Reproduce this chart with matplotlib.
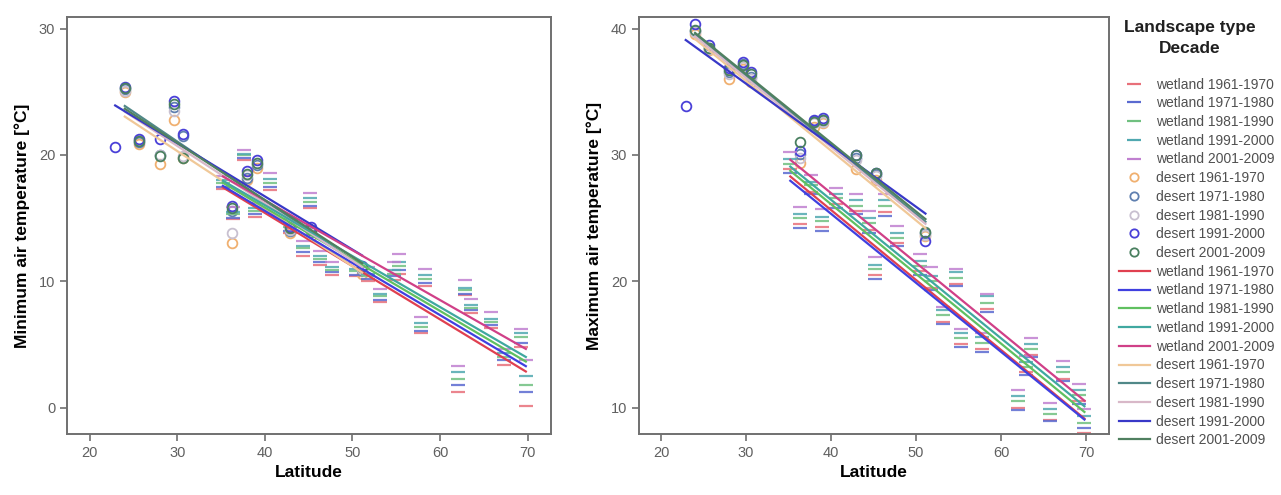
import matplotlib.pyplot as plt
from matplotlib.lines import Line2D
import numpy as np

plt.rcParams['font.family'] = ['Liberation Sans', 'DejaVu Sans']

decades = ['1961-1970', '1971-1980', '1981-1990', '1991-2000', '2001-2009']

# desert stations (latitude), one row per decade
desert_lat = [22.9, 24.0, 25.6, 28.0, 29.6, 30.6, 36.3, 38.0, 39.1, 42.9, 45.3, 51.1]
nan = np.nan
desert_min = [
    [nan, 25.0, 20.9, 19.3, 22.8, 19.8, 13.0, 18.0, 19.0, 13.8, 13.6, 10.6],
    [nan, 25.2, 21.0, 20.0, 23.8, 21.5, 15.6, 18.2, 19.2, 14.0, 13.9, 10.9],
    [nan, 25.1, 21.2, 20.0, 23.5, 19.9, 13.8, 18.4, 19.4, 14.1, 14.0, 11.0],
    [20.6, 25.4, 21.3, 21.3, 24.3, 21.7, 16.0, 18.7, 19.6, 14.3, 14.3, 11.2],
    [nan, 25.3, 21.1, 19.9, 24.0, 19.8, 15.8, 18.5, 19.4, 14.2, 14.1, 11.1],
]
desert_max = [
    [nan, 39.6, 38.3, 36.0, 36.8, 35.8, 29.4, 32.2, 32.5, 28.9, 28.0, 23.6],
    [nan, 39.8, 38.5, 36.6, 37.2, 36.2, 30.1, 32.7, 32.8, 29.8, 28.4, 23.8],
    [nan, 39.7, 38.4, 36.4, 37.0, 36.0, 29.8, 32.5, 32.6, 29.6, 28.3, 23.7],
    [33.9, 40.4, 38.7, 36.9, 37.4, 36.6, 30.3, 32.8, 32.9, 30.0, 28.6, 23.2],
    [nan, 39.9, 38.5, 36.7, 37.1, 36.4, 31.0, 32.6, 32.8, 30.0, 28.6, 23.9],
]

# wetland stations (latitude), one row per decade
wetland_lat = [35.2, 36.4, 37.6, 38.9, 40.6, 42.9, 44.4, 45.2, 46.3, 47.7, 50.4, 51.8,
               53.2, 54.7, 55.3, 57.8, 58.3, 62.0, 62.9, 63.5, 65.8, 67.3, 69.2, 69.8]
wetland_min = [
    [17.3, 14.9, 19.6, 15.1, 17.2, 13.8, 12.0, 15.8, 11.3, 10.5, 10.4, 10.0,
     8.4, 10.1, 10.6, 5.9, 9.6, 1.2, 8.9, 7.5, 6.3, 3.4, 4.8, 0.1],
    [17.5, 15.0, 19.8, 15.3, 17.5, 14.0, 12.3, 16.0, 11.5, 10.7, 10.5, 10.2,
     8.5, 10.4, 10.9, 6.1, 9.9, 1.8, 9.0, 7.7, 6.5, 3.8, 5.1, 1.2],
    [17.8, 15.3, 20.0, 15.6, 17.8, 14.3, 12.6, 16.3, 11.8, 10.9, 10.8, 10.4,
     8.8, 10.6, 11.2, 6.4, 10.2, 2.3, 9.3, 7.9, 6.8, 4.0, 5.6, 1.8],
    [18.0, 15.5, 20.1, 15.8, 18.1, 14.5, 12.8, 16.6, 12.0, 11.1, 11.0, 10.6,
     9.0, 10.9, 11.5, 6.7, 10.5, 2.8, 9.5, 8.1, 7.0, 4.3, 5.9, 2.5],
    [18.3, 15.9, 20.4, 16.2, 18.6, 14.9, 13.2, 17.0, 12.4, 11.5, 11.5, 11.1,
     9.4, 11.5, 12.2, 7.2, 11.0, 3.3, 10.1, 8.6, 7.6, 4.6, 6.2, 3.8],
]
wetland_max = [
    [28.9, 24.5, 27.1, 24.3, 26.1, 25.6, 24.1, 20.5, 25.5, 23.0, 20.8, 19.5,
     16.8, 19.8, 15.0, 14.6, 17.8, 10.0, 12.8, 14.2, 9.0, 12.3, 10.5, 8.0],
    [28.6, 24.2, 26.9, 24.0, 25.8, 25.3, 23.8, 20.2, 25.2, 22.8, 20.5, 19.3,
     16.6, 19.6, 14.8, 14.4, 17.6, 9.8, 12.6, 14.0, 8.9, 12.1, 10.3, 8.4],
    [29.3, 25.0, 27.6, 24.8, 26.6, 26.0, 24.6, 21.0, 26.0, 23.4, 21.2, 20.0,
     17.3, 20.3, 15.5, 15.1, 18.3, 10.5, 13.2, 14.6, 9.5, 12.8, 11.0, 8.8],
    [29.7, 25.3, 27.9, 25.1, 26.9, 26.4, 25.0, 21.3, 26.4, 23.8, 21.6, 20.4,
     17.7, 20.7, 15.9, 15.6, 18.8, 10.9, 13.6, 15.0, 9.9, 13.2, 11.4, 9.3],
    [30.2, 25.9, 28.4, 25.7, 27.4, 26.9, 25.6, 21.9, 26.9, 24.4, 22.2, 21.1,
     18.0, 21.0, 16.2, 15.9, 19.0, 11.4, 14.1, 15.5, 10.4, 13.7, 11.9, 9.9],
]

wet_mk = ['#e8707a', '#5a6ad0', '#70c080', '#50a8b0', '#c080d0']
des_mk = ['#f0b070', '#6080b0', '#c8c0d0', '#4a40d8', '#4a8060']
wet_ln = ['#e04050', '#4040e0', '#60c060', '#40a8a0', '#d04088']
des_ln = ['#f0c898', '#508888', '#d8b8c8', '#3838c8', '#508060']


def fit_line(ax, lat, vals, color):
    lat = np.asarray(lat)
    vals = np.asarray(vals, dtype=float)
    ok = ~np.isnan(vals)
    k, b = np.polyfit(lat[ok], vals[ok], 1)
    xs = np.array([lat[ok].min(), lat[ok].max()])
    ax.plot(xs, k * xs + b, color=color, lw=1.6, zorder=3)


def panel(ax, wet, des, ylabel, ylim, yticks):
    for i in range(5):
        ax.plot(wetland_lat, wet[i], ls='none', marker='_', ms=10, mew=1.6,
                color=wet_mk[i], alpha=0.85, zorder=2)
        ax.plot(desert_lat, des[i], ls='none', marker='o', ms=7, mew=1.3,
                mfc='none', mec=des_mk[i], zorder=2)
    for i in range(5):
        fit_line(ax, wetland_lat, wet[i], wet_ln[i])
        fit_line(ax, desert_lat, des[i], des_ln[i])
    ax.set_xlim(17.4, 72.7)
    ax.set_ylim(*ylim)
    ax.set_xticks([20, 30, 40, 50, 60, 70])
    ax.set_yticks(yticks)
    ax.set_xlabel('Latitude', fontsize=12.5, fontweight='bold', labelpad=4)
    ax.set_ylabel(ylabel, fontsize=12.5, fontweight='bold', labelpad=6)
    ax.tick_params(direction='out', length=5, width=1.2, colors='#707070',
                   labelcolor='#606060', labelsize=10.5)
    for s in ax.spines.values():
        s.set_color('#707070')
        s.set_linewidth(1.4)


fig = plt.figure(figsize=(12.81, 4.95), dpi=100)
ax1 = fig.add_axes([0.0523, 0.123, 0.378, 0.842])
ax2 = fig.add_axes([0.4988, 0.123, 0.367, 0.842])

panel(ax1, wetland_min, desert_min, 'Minimum air temperature [°C]',
      (-2.1, 30.9), [0, 10, 20, 30])
panel(ax2, wetland_max, desert_max, 'Maximum air temperature [°C]',
      (7.9, 40.9), [10, 20, 30, 40])

handles, labels = [], []
for i, d in enumerate(decades):
    handles.append(Line2D([], [], ls='none', marker='_', ms=10, mew=1.6, color=wet_mk[i]))
    labels.append('wetland ' + d)
for i, d in enumerate(decades):
    handles.append(Line2D([], [], ls='none', marker='o', ms=6, mew=1.3, mfc='none', mec=des_mk[i]))
    labels.append('desert ' + d)
for i, d in enumerate(decades):
    handles.append(Line2D([], [], color=wet_ln[i], lw=1.6))
    labels.append('wetland ' + d)
for i, d in enumerate(decades):
    handles.append(Line2D([], [], color=des_ln[i], lw=1.6))
    labels.append('desert ' + d)

fig.text(0.929, 0.96, 'Landscape type\nDecade', ha='center', va='top',
         fontsize=12.5, fontweight='bold', linespacing=1.55, color='#202020')
leg = fig.legend(handles, labels, loc='upper left', bbox_to_anchor=(0.866, 0.863),
                 frameon=False, fontsize=10, labelspacing=0.34, handlelength=2.2,
                 handletextpad=0.45, borderpad=0.2)
for t in leg.get_texts():
    t.set_color('#505050')

fig.savefig('out.png', dpi=100)
